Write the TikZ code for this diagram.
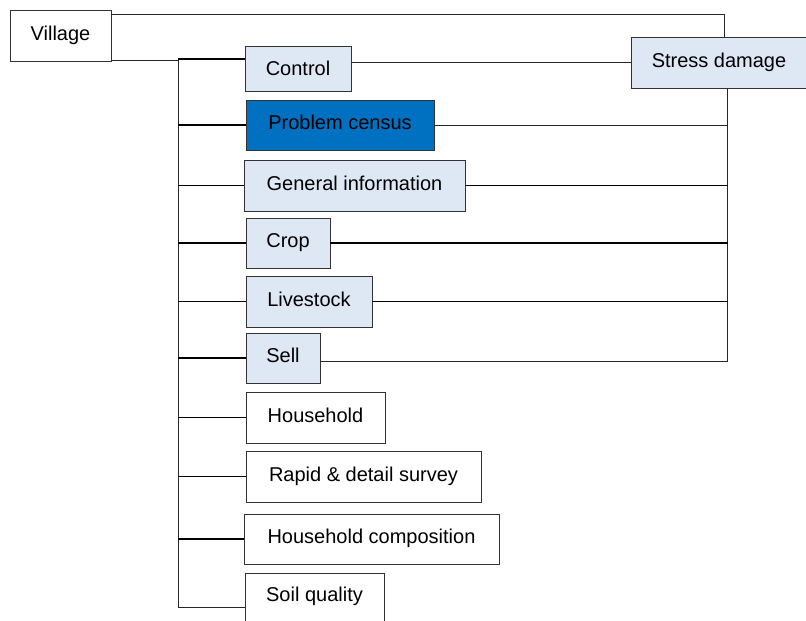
\documentclass[tikz,border=0pt]{standalone}
\usepackage{fontspec}
\setmainfont{Liberation Sans}
\definecolor{lightbox}{HTML}{DEE8F5}
\definecolor{darkbox}{HTML}{0070C0}
\definecolor{boxline}{HTML}{333333}
\tikzset{
  box/.style={draw=boxline, line width=0.9pt, rectangle, inner sep=0pt,
    font=\fontsize{20}{24}\selectfont, text height=14.3pt, text depth=5pt},
  lbox/.style={box, fill=lightbox},
  dbox/.style={box, fill=darkbox},
  wbox/.style={box, fill=white},
  conn/.style={draw=black, line width=1.3pt},
  thin conn/.style={draw=black!85, line width=1pt},
}
\begin{document}
\begin{tikzpicture}[x=1pt,y=-1pt]
\useasboundingbox (0,0) rectangle (806,621);
% boxes
\node[wbox, minimum width=101pt, minimum height=51pt] (village) at (60.5,35.5) {Village};
\node[lbox, minimum width=176pt, minimum height=51pt] (stress) at (719,62.5) {Stress damage};
\node[lbox, minimum width=106pt, minimum height=45pt, text depth=1pt] (control) at (298,68.5) {Control};
\node[dbox, minimum width=188pt, minimum height=50pt] (problem) at (340,125) {Problem census};
\node[lbox, minimum width=221pt, minimum height=51pt] (general) at (354.5,185.5) {General information};
\node[lbox, minimum width=84pt, minimum height=50pt] (crop) at (288,243) {Crop};
\node[lbox, minimum width=126pt, minimum height=51pt] (livestock) at (309,301.5) {Livestock};
\node[lbox, minimum width=74pt, minimum height=50pt] (sell) at (283,358) {Sell};
\node[wbox, minimum width=139pt, minimum height=51pt] (household) at (315.5,417.5) {Household};
\node[wbox, minimum width=235pt, minimum height=51pt] (rapid) at (363.5,476.5) {Rapid \& detail survey};
\node[wbox, minimum width=255pt, minimum height=50pt] (hcomp) at (371.5,539) {Household composition};
\node[wbox, minimum width=139pt, minimum height=50pt, text height=0pt, text depth=0pt] (soil) at (314.5,598) {};
\node[font=\fontsize{20}{24}\selectfont, anchor=center, inner sep=0pt, text height=14.3pt, text depth=0pt] (soiltext) at (314.5,594.5) {Soil quality};
% coordinates of the buses
\coordinate (spinebot) at (178,607);
\coordinate (rb) at (727.5,361);
% village to stress damage (top)
\draw[thin conn] ([yshift=-5pt]village.north east) -| ([xshift=5pt]stress.north);
% spine on the left
\draw[thin conn] ([yshift=1pt]village.south east) -| (spinebot) -- (soil.west |- spinebot);
\draw[conn] (spinebot |- 0,59) -- (control.west |- 0,59);
\foreach \n in {problem,general,crop,livestock,sell,household,rapid,hcomp}
  \draw[conn] (spinebot |- \n.west) -- (\n.west);
% right side
\draw[thin conn] (control.east |- stress.west) -- (stress.west);
\draw[thin conn] (stress.south -| rb) -- (rb) -- (sell.east |- rb);
\draw[thin conn] (problem.east) -- (problem.east -| rb);
\foreach \n in {general,crop,livestock}
  \draw[conn] (\n.east) -- (\n.east -| rb);
\end{tikzpicture}
\end{document}
